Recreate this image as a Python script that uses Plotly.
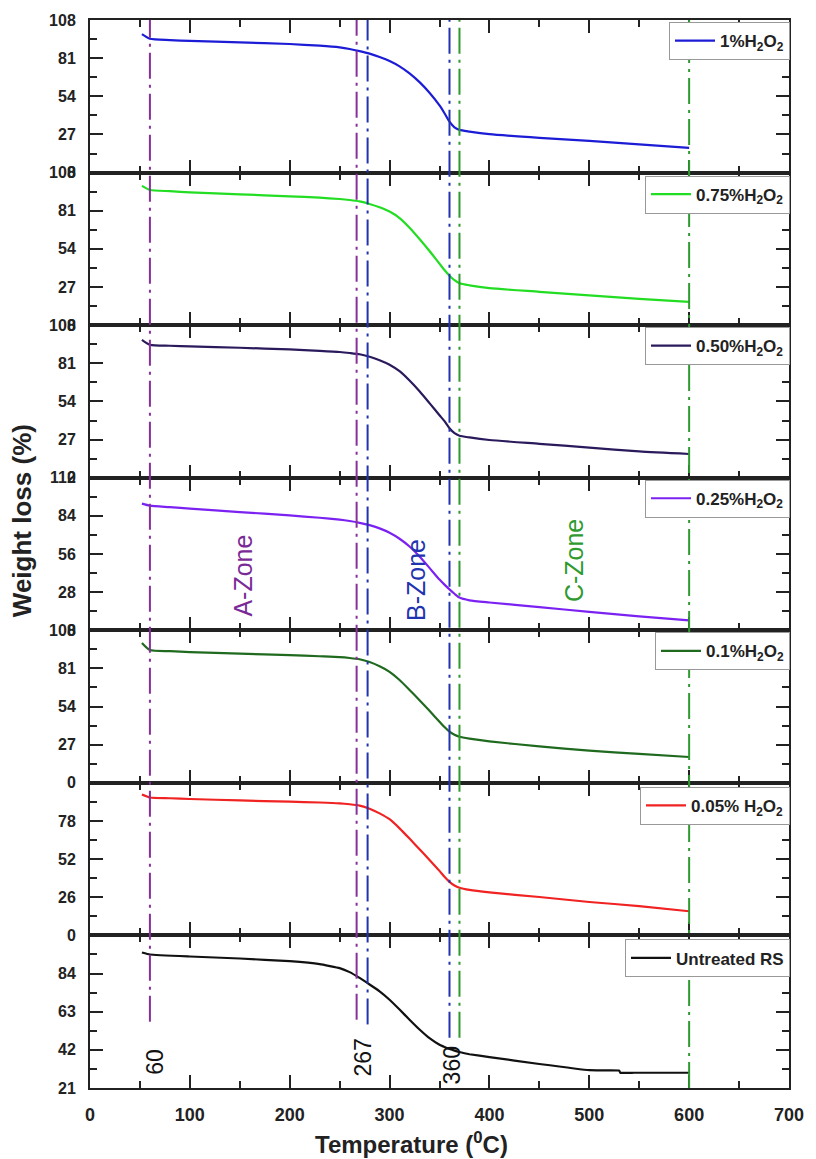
import plotly.graph_objects as go

# Thermogravimetric curves of rice straw (RS) pretreated with different H2O2 doses
temps = [52, 60, 80, 100, 150, 200, 230, 250, 260, 270, 280, 290, 300, 310, 320, 330,
         340, 350, 355, 360, 365, 370, 380, 400, 450, 500, 550, 600]

w_1pct = [98.0, 94.7, 93.8, 93.2, 92.2, 91.0, 89.8, 88.6, 87.5, 86.0, 84.2, 81.8, 79.0, 75.2,
          70.2, 64.0, 56.5, 47.5, 42.0, 36.0, 32.0, 30.2, 29.0, 27.2, 24.6, 22.4, 20.0, 17.5]
w_075pct = [98.6, 95.7, 94.8, 94.0, 92.6, 91.2, 90.2, 89.3, 88.6, 87.6, 85.8, 83.4, 80.4, 75.8,
            69.0, 61.0, 52.5, 43.5, 39.0, 35.0, 31.8, 29.7, 28.2, 26.2, 23.6, 21.0, 18.6, 16.4]
w_050pct = [97.5, 94.0, 93.4, 93.0, 92.0, 90.8, 89.8, 89.0, 88.3, 87.4, 85.6, 83.2, 80.0, 75.4,
            68.8, 61.2, 52.8, 44.2, 40.0, 35.0, 31.5, 29.7, 28.5, 26.7, 24.0, 21.3, 18.6, 16.8]
w_025pct = [93.0, 91.5, 90.4, 89.3, 86.8, 84.3, 82.6, 81.2, 80.2, 78.9, 77.2, 74.8, 71.6, 67.2,
            61.5, 54.2, 45.8, 37.2, 33.5, 30.0, 26.8, 24.0, 22.0, 20.4, 17.0, 13.5, 10.2, 7.3]
w_01pct = [99.0, 94.0, 93.2, 92.6, 91.5, 90.4, 89.6, 89.0, 88.4, 87.5, 85.5, 82.5, 78.6, 72.8,
           65.8, 58.5, 51.0, 43.3, 39.5, 36.2, 34.0, 32.6, 31.3, 29.4, 25.8, 22.8, 20.5, 18.3]
w_005pct = [96.0, 94.0, 93.5, 93.0, 92.0, 91.2, 90.6, 90.0, 89.4, 88.5, 86.4, 83.2, 79.2, 73.0,
            66.0, 58.8, 51.5, 44.0, 40.0, 36.5, 34.0, 32.5, 31.0, 29.3, 26.2, 22.8, 20.0, 16.5]

temps_rs = [52, 60, 100, 150, 200, 230, 250, 260, 270, 280, 290, 300, 310, 320, 330, 340,
            350, 355, 360, 365, 370, 380, 400, 450, 500, 515, 530, 531, 545, 570, 600]
w_rs = [95.6, 94.5, 93.4, 92.3, 90.8, 89.2, 87.0, 84.8, 81.6, 78.0, 74.2, 69.6, 64.2, 58.6,
        53.2, 48.4, 44.8, 43.6, 42.5, 41.6, 40.8, 39.6, 38.0, 34.2, 30.8, 30.7, 30.6, 29.4,
        29.4, 29.4, 29.4]

names = ["1%H<sub>2</sub>O<sub>2</sub>", "0.75%H<sub>2</sub>O<sub>2</sub>",
         "0.50%H<sub>2</sub>O<sub>2</sub>", "0.25%H<sub>2</sub>O<sub>2</sub>",
         "0.1%H<sub>2</sub>O<sub>2</sub>", "0.05% H<sub>2</sub>O<sub>2</sub>", "Untreated RS"]
x_sets = [temps, temps, temps, temps, temps, temps, temps_rs]
y_sets = [w_1pct, w_075pct, w_050pct, w_025pct, w_01pct, w_005pct, w_rs]
colors = ["#1c1cd6", "#22dd22", "#2a1a5c", "#7b22f2", "#1f6a1f", "#f02222", "#111111"]
smoothing = [0.6, 0.6, 0.6, 0.6, 0.6, 0.6, 0.3]

# per-panel y scale and labelled ticks
y_ranges = [(0, 108), (0, 108), (0, 108), (0, 112), (0, 108), (0, 104), (21, 105)]
y_ticks = [[0, 27, 54, 81, 108], [0, 27, 54, 81, 108], [0, 27, 54, 81, 108],
           [0, 28, 56, 84, 112], [0, 27, 54, 81, 108], [0, 26, 52, 78], [21, 42, 63, 84]]
y_steps = [27, 27, 27, 28, 27, 26, 21]
legend_drop_px = [2, 3, 2, 2, 2, 4, 4]

# zone boundary temperatures: (temperature, colour, lower end in the bottom panel, % scale)
boundaries = [(60, "#86309a", 57.5), (267, "#86309a", 58.6), (278, "#2233b0", 56.0),
              (360, "#2233b0", 48.6), (370, "#2f9a2f", 48.6), (600, "#2f9a2f", 21.0)]

zone_labels = [("A-Zone", 153, 40, "#7a2a96"), ("B-Zone", 327, 36.6, "#2233b0"),
               ("C-Zone", 485, 51, "#2f9a2f")]
temp_labels = [("60", 65, 35.4), ("267", 273, 37.6), ("360", 362, 33.7)]

FONT = "Liberation Sans, Arial, sans-serif"
W, H = 816, 1159
ML, MR, MT, MB = 90, 26, 18, 71
plot_w = W - ML - MR
plot_h = H - MT - MB
n = len(names)
AX = "#222222"

fig = go.Figure()
layout = dict(
    width=W, height=H,
    margin=dict(l=ML, r=MR, t=MT, b=MB),
    paper_bgcolor="white", plot_bgcolor="white",
    font=dict(family=FONT, color=AX),
    showlegend=True,
)

for i in range(n):
    k = i + 1
    fig.add_trace(go.Scatter(
        x=x_sets[i], y=y_sets[i], mode="lines", name="<b>" + names[i] + "</b>",
        line=dict(color=colors[i], width=2.2, shape="spline", smoothing=smoothing[i]),
        xaxis=f"x{k}", yaxis=f"y{k}", legend="legend" if k == 1 else f"legend{k}",
    ))
    top = 1 - i / n
    bot = 1 - (i + 1) / n
    lo, hi = y_ranges[i]
    step = y_steps[i]
    minor_vals = [lo + step / 2 + step * j for j in range(int((hi - lo) / step))]
    layout[f"yaxis{k}" if k > 1 else "yaxis"] = dict(
        domain=[bot, top], range=[lo, hi], anchor=f"x{k}",
        tickmode="array", tickvals=y_ticks[i],
        ticktext=[f"<b>{t}</b>" for t in y_ticks[i]],
        ticks="inside", ticklen=13, tickwidth=1.6, tickcolor=AX,
        minor=dict(tickmode="array", tickvals=minor_vals, ticks="inside", ticklen=7,
                   tickwidth=1.6, tickcolor=AX),
        showline=True, linecolor=AX, linewidth=2, mirror="ticks",
        showgrid=False, zeroline=False,
        tickfont=dict(family=FONT, size=16, color=AX),
        ticklabelstandoff=9,
    )
    layout[f"xaxis{k}" if k > 1 else "xaxis"] = dict(
        domain=[0, 1], range=[0, 700], anchor=f"y{k}",
        matches=None if k == 1 else "x",
        tickmode="array", tickvals=list(range(0, 701, 100)),
        ticktext=[f"<b>{t}</b>" for t in range(0, 701, 100)],
        ticks="inside", ticklen=13, tickwidth=1.6, tickcolor=AX,
        minor=dict(tickmode="array", tickvals=list(range(50, 700, 100)), ticks="inside",
                   ticklen=7, tickwidth=1.6, tickcolor=AX),
        showline=True, linecolor=AX, linewidth=2, mirror="ticks",
        showgrid=False, zeroline=False, showticklabels=(k == n),
        tickfont=dict(family=FONT, size=18, color=AX),
        ticklabelstandoff=9,
    )
    layout["legend" if k == 1 else f"legend{k}"] = dict(
        x=1 + 1 / plot_w, xanchor="right", xref="paper",
        y=top - legend_drop_px[i] / plot_h, yanchor="top", yref="paper",
        bgcolor="white", bordercolor="#999999", borderwidth=1,
        font=dict(family=FONT, size=17, color=AX),
        itemwidth=40, tracegroupgap=0,
    )

fig.update_layout(**layout)

# dash-dot zone boundaries running through all panels
lo7, hi7 = y_ranges[-1]
for t, c, end_val in boundaries:
    y0 = (1 / n) * (end_val - lo7) / (hi7 - lo7)
    fig.add_shape(type="line", xref="x", yref="paper", x0=t, x1=t, y0=y0, y1=1,
                  line=dict(color=c, width=2, dash="26px,6px,3px,6px"))

annotations = []
for txt, x, y, c in zone_labels:
    annotations.append(dict(text=txt, x=x, y=y, xref="x4", yref="y4", showarrow=False,
                            textangle=-90, font=dict(family=FONT, size=25, color=c)))
for txt, x, y in temp_labels:
    annotations.append(dict(text=txt, x=x, y=y, xref="x7", yref="y7", showarrow=False,
                            textangle=-90, font=dict(family=FONT, size=23, color="#111")))
annotations.append(dict(text="<b>Weight loss (%)</b>", xref="paper", yref="paper",
                        x=-(ML - 22) / plot_w, y=(H - MB - 520) / plot_h,
                        showarrow=False, textangle=-90, xanchor="center", yanchor="middle",
                        font=dict(family=FONT, size=26, color=AX)))
annotations.append(dict(text="<b>Temperature (<sup>0</sup>C)</b>", xref="paper", yref="paper",
                        x=(412 - ML) / plot_w, y=-(1143 - (H - MB)) / plot_h, showarrow=False,
                        xanchor="center", yanchor="middle",
                        font=dict(family=FONT, size=24, color=AX)))
fig.update_layout(annotations=annotations)

fig.write_html("out.html")
